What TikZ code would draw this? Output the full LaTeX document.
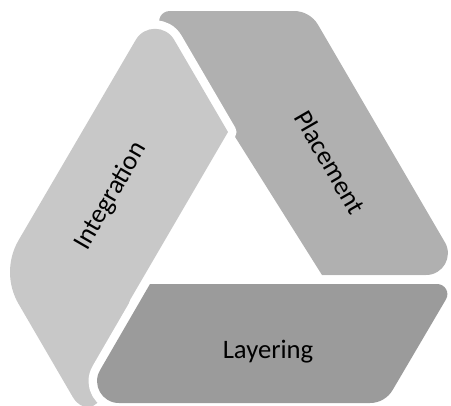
\documentclass[tikz,border=0pt]{standalone}
\usepackage{fontspec}
\setmainfont{Carlito}
\usetikzlibrary{calc}
\definecolor{intc}{RGB}{200,200,200}
\definecolor{plac}{RGB}{176,176,176}
\definecolor{layc}{RGB}{155,155,155}
\tikzset{
  rc/.style n args={5}{insert path={-- ($(#1)!#4!(#2)$) .. controls ($(#1)!#5!(#2)$) and ($(#1)!#5!(#3)$) .. ($(#1)!#4!(#3)$)}},
  halo/.style={preaction={draw=white, line width=12.75pt, line join=round}},
  lbl/.style={font=\fontsize{20}{24}\selectfont, text=black, inner sep=0pt},
}
\begin{document}
\begin{tikzpicture}[x=0.75pt,y=-0.75pt]
\useasboundingbox (0,0) rectangle (451,405);
% Placement
\coordinate (P0) at (232,132);
\coordinate (P1) at (150,11);
\coordinate (P2) at (310,11);
\coordinate (P3) at (464,275);
\coordinate (P4) at (322,275);
\fill[plac] (P4) -- (P0) [rc={P1}{P0}{P2}{15pt}{8.3pt}] [rc={P2}{P1}{P3}{12pt}{4.6pt}] [rc={P3}{P2}{P4}{28.5pt}{15.75pt}] -- cycle;
% Integration
\coordinate (IT) at (155,7);
\coordinate (IA) at (228,132);
\coordinate (IK) at (130,300);
\coordinate (IB) at (92,430);
\coordinate (IL) at (0,272);
\fill[intc, halo] (IA) [rc={IT}{IA}{IL}{28.5pt}{15.75pt}] [rc={IL}{IT}{IB}{27.75pt}{10.6pt}] [rc={IB}{IL}{IK}{28.5pt}{15.75pt}] -- (IK) -- cycle;
% Layering
\coordinate (LC) at (150,284);
\coordinate (LR) at (455,284);
\coordinate (LS) at (385,403);
\coordinate (LW) at (81,403);
\fill[layc, halo] (LC) [rc={LR}{LC}{LS}{13.5pt}{7.4pt}] [rc={LS}{LR}{LW}{11.25pt}{4.3pt}] [rc={LW}{LS}{LC}{28.5pt}{15.75pt}] -- cycle;
% Labels
\node[lbl, rotate=60] (ti) at (111,196) {Integration};
\node[lbl, rotate=-60] (tp) at (330,162) {Placement};
\node[lbl] (tl) at (268,352) {Layering};
\end{tikzpicture}
\end{document}
